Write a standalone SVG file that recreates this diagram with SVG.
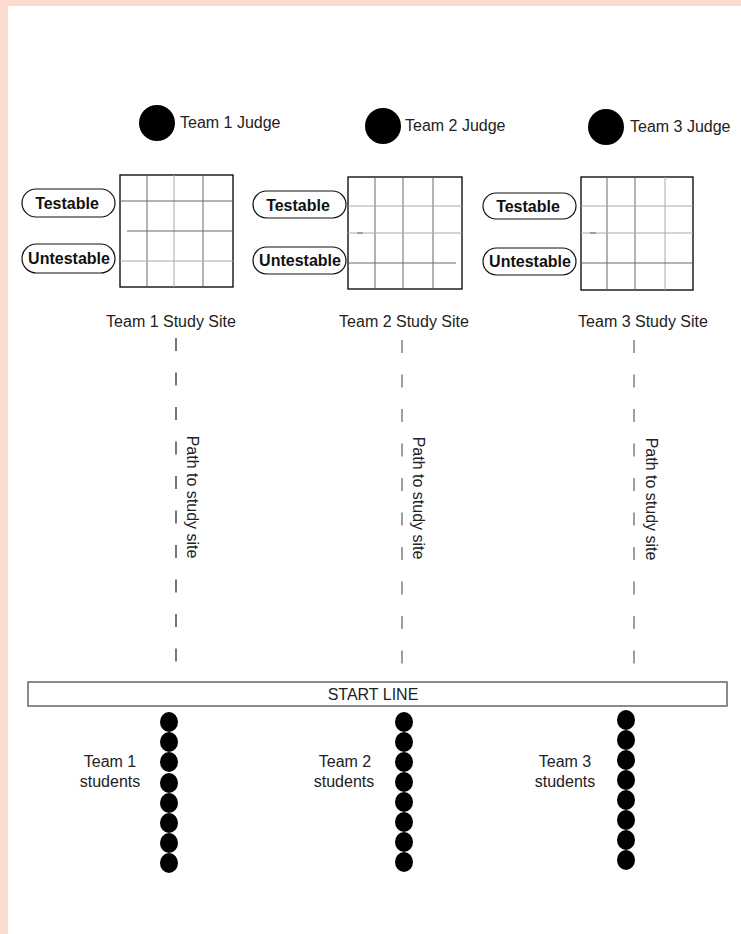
<svg xmlns="http://www.w3.org/2000/svg" width="741" height="934" viewBox="0 0 741 934">
<style>
  text { font-family: "Liberation Sans", Arial, sans-serif; font-size: 16px; fill: #222; }
  .pilltxt { font-weight: bold; fill: #111; text-anchor: middle; }
  .mid { text-anchor: middle; }
  .pill { fill: #fff; stroke: #111; stroke-width: 1.2; }
  .gridbox { fill: #fff; stroke: #111; stroke-width: 1.4; }
  .gl { stroke: #666; stroke-width: 1; }
  .gll { stroke: #aaa; stroke-width: 1; }
  .dot { fill: #000; }
  .path1 { stroke: #555; stroke-width: 1.6; stroke-dasharray: 13 21.5; fill: none; }
  .path2 { stroke: #888; stroke-width: 1.6; stroke-dasharray: 13 21.5; fill: none; }
</style>
<rect x="0" y="0" width="741" height="934" fill="#fff"/>
<rect x="0" y="0" width="741" height="6" fill="#fcdcd0"/>
<rect x="0" y="0" width="8" height="934" fill="#fcdcd0"/>

<g id="connectors">
  <line class="path1" x1="176" y1="338" x2="176" y2="662"/>
  <line class="path2" x1="402" y1="340" x2="402" y2="664"/>
  <line class="path2" x1="634" y1="340" x2="634" y2="664"/>
  <text transform="translate(187,497) rotate(90)" class="mid">Path to study site</text>
  <text transform="translate(413,498) rotate(90)" class="mid">Path to study site</text>
  <text transform="translate(646,499) rotate(90)" class="mid">Path to study site</text>
</g>

<g id="judge1">
  <circle class="dot" cx="157" cy="123" r="18"/>
  <text x="180" y="128">Team 1 Judge</text>
</g>
<g id="judge2">
  <circle class="dot" cx="383" cy="126" r="18"/>
  <text x="405" y="131">Team 2 Judge</text>
</g>
<g id="judge3">
  <circle class="dot" cx="606" cy="127" r="18"/>
  <text x="630" y="132">Team 3 Judge</text>
</g>

<g id="site1">
  <rect class="gridbox" x="120" y="175" width="113" height="112"/>
  <line class="gl" x1="147" y1="175" x2="147" y2="287"/>
  <line class="gll" x1="174" y1="175" x2="174" y2="287"/>
  <line class="gl" x1="203" y1="175" x2="203" y2="287"/>
  <line class="gl" x1="120" y1="201" x2="233" y2="201"/>
  <line class="gl" x1="127" y1="231" x2="233" y2="231"/>
  <line class="gll" x1="120" y1="261" x2="233" y2="261"/>
  <rect class="pill" x="22" y="189" width="93" height="28" rx="14"/>
  <text class="pilltxt" x="67" y="209">Testable</text>
  <rect class="pill" x="22" y="244" width="93" height="29" rx="14.5"/>
  <text class="pilltxt" x="69" y="264">Untestable</text>
  <text class="mid" x="171" y="327">Team 1 Study Site</text>
</g>

<g id="site2">
  <rect class="gridbox" x="348" y="177" width="114" height="112"/>
  <line class="gl" x1="375" y1="177" x2="375" y2="289"/>
  <line class="gl" x1="403" y1="177" x2="403" y2="289"/>
  <line class="gl" x1="433" y1="177" x2="433" y2="289"/>
  <line class="gll" x1="348" y1="206" x2="462" y2="206"/>
  <line class="gll" x1="348" y1="233" x2="462" y2="233"/>
  <line class="gl" x1="357" y1="233" x2="363" y2="233"/>
  <line class="gl" x1="348" y1="263" x2="456" y2="263"/>
  <rect class="pill" x="253" y="191" width="93" height="27" rx="13.5"/>
  <text class="pilltxt" x="298" y="211">Testable</text>
  <rect class="pill" x="253" y="247" width="93" height="27" rx="13.5"/>
  <text class="pilltxt" x="300" y="266">Untestable</text>
  <text class="mid" x="404" y="327">Team 2 Study Site</text>
</g>

<g id="site3">
  <rect class="gridbox" x="581" y="177" width="112" height="113"/>
  <line class="gl" x1="607" y1="177" x2="607" y2="290"/>
  <line class="gl" x1="635" y1="177" x2="635" y2="290"/>
  <line class="gll" x1="665" y1="177" x2="665" y2="290"/>
  <line class="gll" x1="581" y1="206" x2="693" y2="206"/>
  <line class="gll" x1="581" y1="233" x2="693" y2="233"/>
  <line class="gl" x1="590" y1="233" x2="596" y2="233"/>
  <line class="gl" x1="581" y1="263" x2="693" y2="263"/>
  <rect class="pill" x="483" y="193" width="93" height="26" rx="13"/>
  <text class="pilltxt" x="528" y="212">Testable</text>
  <rect class="pill" x="483" y="248" width="93" height="27" rx="13.5"/>
  <text class="pilltxt" x="530" y="267">Untestable</text>
  <text class="mid" x="643" y="327">Team 3 Study Site</text>
</g>

<g id="startline">
  <rect x="28" y="682" width="699" height="24" fill="#fff" stroke="#666" stroke-width="1.5"/>
  <text class="mid" x="373" y="700">START LINE</text>
</g>

<g id="students1">
  <ellipse class="dot" cx="169" cy="722" rx="9" ry="10"/>
  <ellipse class="dot" cx="169" cy="742" rx="9" ry="10"/>
  <ellipse class="dot" cx="169" cy="762" rx="9" ry="10"/>
  <ellipse class="dot" cx="169" cy="783" rx="9" ry="10"/>
  <ellipse class="dot" cx="169" cy="803" rx="9" ry="10"/>
  <ellipse class="dot" cx="169" cy="823" rx="9" ry="10"/>
  <ellipse class="dot" cx="169" cy="843" rx="9" ry="10"/>
  <ellipse class="dot" cx="169" cy="863" rx="9" ry="10"/>
  <text class="mid" x="110" y="767">Team 1</text>
  <text class="mid" x="110" y="787">students</text>
</g>
<g id="students2">
  <ellipse class="dot" cx="404" cy="722" rx="9" ry="10"/>
  <ellipse class="dot" cx="404" cy="742" rx="9" ry="10"/>
  <ellipse class="dot" cx="404" cy="762" rx="9" ry="10"/>
  <ellipse class="dot" cx="404" cy="782" rx="9" ry="10"/>
  <ellipse class="dot" cx="404" cy="802" rx="9" ry="10"/>
  <ellipse class="dot" cx="404" cy="822" rx="9" ry="10"/>
  <ellipse class="dot" cx="404" cy="842" rx="9" ry="10"/>
  <ellipse class="dot" cx="404" cy="862" rx="9" ry="10"/>
  <text class="mid" x="345" y="767">Team 2</text>
  <text class="mid" x="344" y="787">students</text>
</g>
<g id="students3">
  <ellipse class="dot" cx="626" cy="720" rx="9" ry="10"/>
  <ellipse class="dot" cx="626" cy="740" rx="9" ry="10"/>
  <ellipse class="dot" cx="626" cy="760" rx="9" ry="10"/>
  <ellipse class="dot" cx="626" cy="780" rx="9" ry="10"/>
  <ellipse class="dot" cx="626" cy="800" rx="9" ry="10"/>
  <ellipse class="dot" cx="626" cy="820" rx="9" ry="10"/>
  <ellipse class="dot" cx="626" cy="840" rx="9" ry="10"/>
  <ellipse class="dot" cx="626" cy="860" rx="9" ry="10"/>
  <text class="mid" x="565" y="767">Team 3</text>
  <text class="mid" x="565" y="787">students</text>
</g>
</svg>
